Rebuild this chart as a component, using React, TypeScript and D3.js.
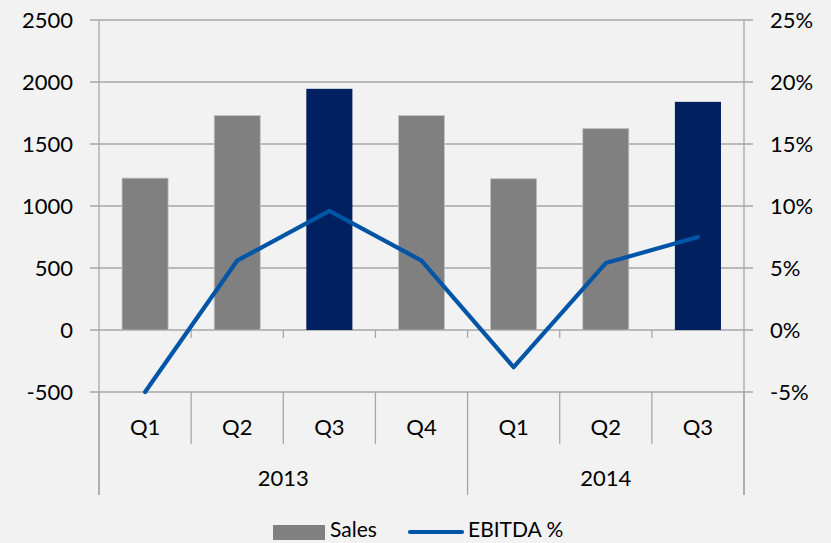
import React from "react";
import * as d3 from "d3";

const quarters = ["Q1", "Q2", "Q3", "Q4", "Q1", "Q2", "Q3"];
const years = ["2013", "2014"];
const yearSpans = [4, 3];
const sales = [1225, 1730, 1945, 1730, 1220, 1625, 1840];
const highlight = [false, false, true, false, false, false, true];
const ebitda = [-5.0, 5.6, 9.6, 5.6, -3.0, 5.4, 7.5];
const leftTicks = [-500, 0, 500, 1000, 1500, 2000, 2500];
const rightTicks = [-5, 0, 5, 10, 15, 20, 25];

const W = 831;
const H = 543;
const left = 99;
const right = 744;
const top = 20;
const bottom = 392;
const catBottom = 444;
const yearBottom = 495;
const FONT = "Lato, 'Open Sans', sans-serif";
const GRID = "#a6a6a6";

export default function App() {
  const idx = quarters.map((_, i) => String(i));
  const x = d3.scaleBand<string>().domain(idx).range([left, right]).paddingInner(0).paddingOuter(0);
  const y = d3.scaleLinear().domain([-500, 2500]).range([bottom, top]);
  const y2 = d3.scaleLinear().domain([-5, 25]).range([bottom, top]);
  const bw = x.bandwidth();
  const barW = bw * 0.5;

  const line = d3
    .line<number>()
    .x((_, i) => (x(String(i)) as number) + bw / 2)
    .y((d) => y2(d));

  const boundaries = d3.range(quarters.length + 1).map((i) => left + i * bw);
  let acc = 0;
  const yearBounds = yearSpans.map((s) => {
    const a = acc;
    acc += s;
    return [left + a * bw, left + acc * bw];
  });
  const yearSepIdx = new Set<number>([0, quarters.length]);
  {
    let a = 0;
    yearSpans.forEach((s) => {
      a += s;
      yearSepIdx.add(a);
    });
  }

  return (
    <svg
      width={W}
      height={H}
      style={{ position: "absolute", left: 0, top: 0, background: "#f2f2f2" }}
      fontFamily={FONT}
    >
      <rect x={0} y={0} width={W} height={H} fill="#f2f2f2" />
      {leftTicks.map((t) => (
        <line key={"g" + t} x1={left - 9} x2={right + 9} y1={y(t)} y2={y(t)} stroke={GRID} strokeWidth={1.3} />
      ))}
      {sales.map((v, i) => (
        <rect
          key={"b" + i}
          x={(x(String(i)) as number) + (bw - barW) / 2}
          y={y(v)}
          width={barW}
          height={y(0) - y(v)}
          fill={highlight[i] ? "#002060" : "#808080"}
          stroke={highlight[i] ? "none" : "#c4c4c4"}
          strokeWidth={highlight[i] ? 0 : 0.8}
        />
      ))}
      {boundaries.slice(1, -1).map((bx, i) => (
        <line key={"zt" + i} x1={bx} x2={bx} y1={y(0)} y2={y(0) + 8} stroke={GRID} strokeWidth={1.3} />
      ))}
      <line x1={left} x2={left} y1={top} y2={yearBottom} stroke={GRID} strokeWidth={1.3} />
      <line x1={right} x2={right} y1={top} y2={yearBottom} stroke={GRID} strokeWidth={1.3} />
      {boundaries.map((bx, i) => (
        <line
          key={"cs" + i}
          x1={bx}
          x2={bx}
          y1={bottom}
          y2={yearSepIdx.has(i) ? yearBottom : catBottom}
          stroke={GRID}
          strokeWidth={1.3}
        />
      ))}
      <path
        d={line(ebitda) || ""}
        fill="none"
        stroke="#0055a6"
        strokeWidth={4.2}
        strokeLinejoin="round"
        strokeLinecap="round"
      />
      {leftTicks.map((t) => (
        <text key={"l" + t} x={73} y={y(t)} dy="0.35em" textAnchor="end" fontSize={22} fill="#000">
          {t}
        </text>
      ))}
      {rightTicks.map((t) => (
        <text key={"r" + t} x={770} y={y2(t)} dy="0.35em" textAnchor="start" fontSize={22} fill="#000">
          {t + "%"}
        </text>
      ))}
      {quarters.map((q, i) => (
        <text
          key={"q" + i}
          x={(x(String(i)) as number) + bw / 2}
          y={427}
          dy="0.35em"
          textAnchor="middle"
          fontSize={22}
          fill="#000"
        >
          {q}
        </text>
      ))}
      {years.map((yr, i) => (
        <text
          key={"y" + yr}
          x={(yearBounds[i][0] + yearBounds[i][1]) / 2}
          y={478}
          dy="0.35em"
          textAnchor="middle"
          fontSize={22}
          fill="#000"
        >
          {yr}
        </text>
      ))}
      <rect x={273} y={525} width={52} height={15} fill="#808080" />
      <text x={330} y={530} dy="0.35em" fontSize={21} fill="#000">
        Sales
      </text>
      <line x1={410} x2={462} y1={532} y2={532} stroke="#0055a6" strokeWidth={4.2} strokeLinecap="round" />
      <text x={468} y={530} dy="0.35em" fontSize={21} fill="#000">
        EBITDA %
      </text>
    </svg>
  );
}
